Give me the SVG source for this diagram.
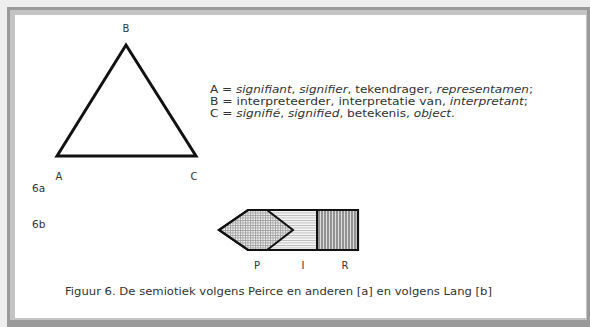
<svg xmlns="http://www.w3.org/2000/svg" width="590" height="327" viewBox="0 0 590 327">
<defs>
<style>
.t{font-family:"DejaVu Sans","Liberation Sans",sans-serif;font-size:10.5px;fill:#333}
.l{font-family:"DejaVu Sans","Liberation Sans",sans-serif;font-size:10px;fill:#333}
.i{font-style:italic}
.sh{fill:none;stroke:#111;stroke-width:2.2;stroke-linejoin:miter}
</style>
<pattern id="grid" width="2.5" height="2.5" patternUnits="userSpaceOnUse">
<rect width="2.5" height="2.5" fill="#f2f2f2"/>
<path d="M0 0.5H2.5M0.5 0V2.5" stroke="#999" stroke-width="0.8"/>
</pattern>
<pattern id="hor" width="4" height="2.5" patternUnits="userSpaceOnUse">
<rect width="4" height="2.5" fill="#f6f6f6"/>
<path d="M0 0.5H4" stroke="#aaa" stroke-width="0.8"/>
</pattern>
<pattern id="ver" width="3" height="4" patternUnits="userSpaceOnUse">
<rect width="3" height="4" fill="#ddd"/>
<path d="M1 0V4" stroke="#555" stroke-width="1.1"/>
</pattern>
</defs>
<rect width="590" height="327" fill="#eeeeee"/>
<rect x="7" y="7" width="583" height="320" fill="#9a9a9a"/>
<rect x="10" y="10" width="577" height="310" fill="#c4c4c4"/>
<rect x="15" y="15" width="571" height="303" fill="#ffffff"/>

<g id="triangle">
<polygon points="57,156 126,45 196,156" fill="none" stroke="#111" stroke-width="3"/>
</g>
<g id="labelB"><text class="l" x="126" y="32" text-anchor="middle">B</text></g>
<g id="labelA"><text class="l" x="59" y="180" text-anchor="middle">A</text></g>
<g id="labelC"><text class="l" x="194" y="180" text-anchor="middle">C</text></g>
<g id="label6a"><text class="t" x="32" y="192">6a</text></g>
<g id="label6b"><text class="t" x="32" y="228">6b</text></g>

<g id="legend">
<text class="t" x="210" y="93" textLength="323" lengthAdjust="spacingAndGlyphs">A = <tspan class="i">signifiant</tspan>, <tspan class="i">signifier</tspan>, tekendrager, <tspan class="i">representamen</tspan>;</text>
<text class="t" x="210" y="105" textLength="318" lengthAdjust="spacingAndGlyphs">B = interpreteerder, interpretatie van, <tspan class="i">interpretant</tspan>;</text>
<text class="t" x="210" y="117" textLength="245" lengthAdjust="spacingAndGlyphs">C = <tspan class="i">signifié</tspan>, <tspan class="i">signified</tspan>, betekenis, <tspan class="i">object</tspan>.</text>
</g>

<g id="shape6b">
<rect x="248" y="210" width="69" height="40" fill="url(#hor)"/>
<rect x="317" y="210" width="41" height="40" fill="url(#ver)"/>
<polygon points="219,230 248,210 267,210 293,230 267,250 248,250" fill="url(#grid)" stroke="#111" stroke-width="2"/>
<polygon class="sh" points="219,230 248,210 358,210 358,250 248,250"/>
<line x1="317" y1="210" x2="317" y2="250" stroke="#111" stroke-width="2"/>
</g>
<g id="labelP"><text class="l" x="257" y="269" text-anchor="middle">P</text></g>
<g id="labelI"><text class="l" x="303" y="269" text-anchor="middle">I</text></g>
<g id="labelR"><text class="l" x="345" y="269" text-anchor="middle">R</text></g>

<g id="caption">
<text class="t" x="65" y="295" textLength="427" lengthAdjust="spacingAndGlyphs">Figuur 6. De semiotiek volgens Peirce en anderen [a] en volgens Lang [b]</text>
</g>
<g id="connectors"></g>
</svg>
